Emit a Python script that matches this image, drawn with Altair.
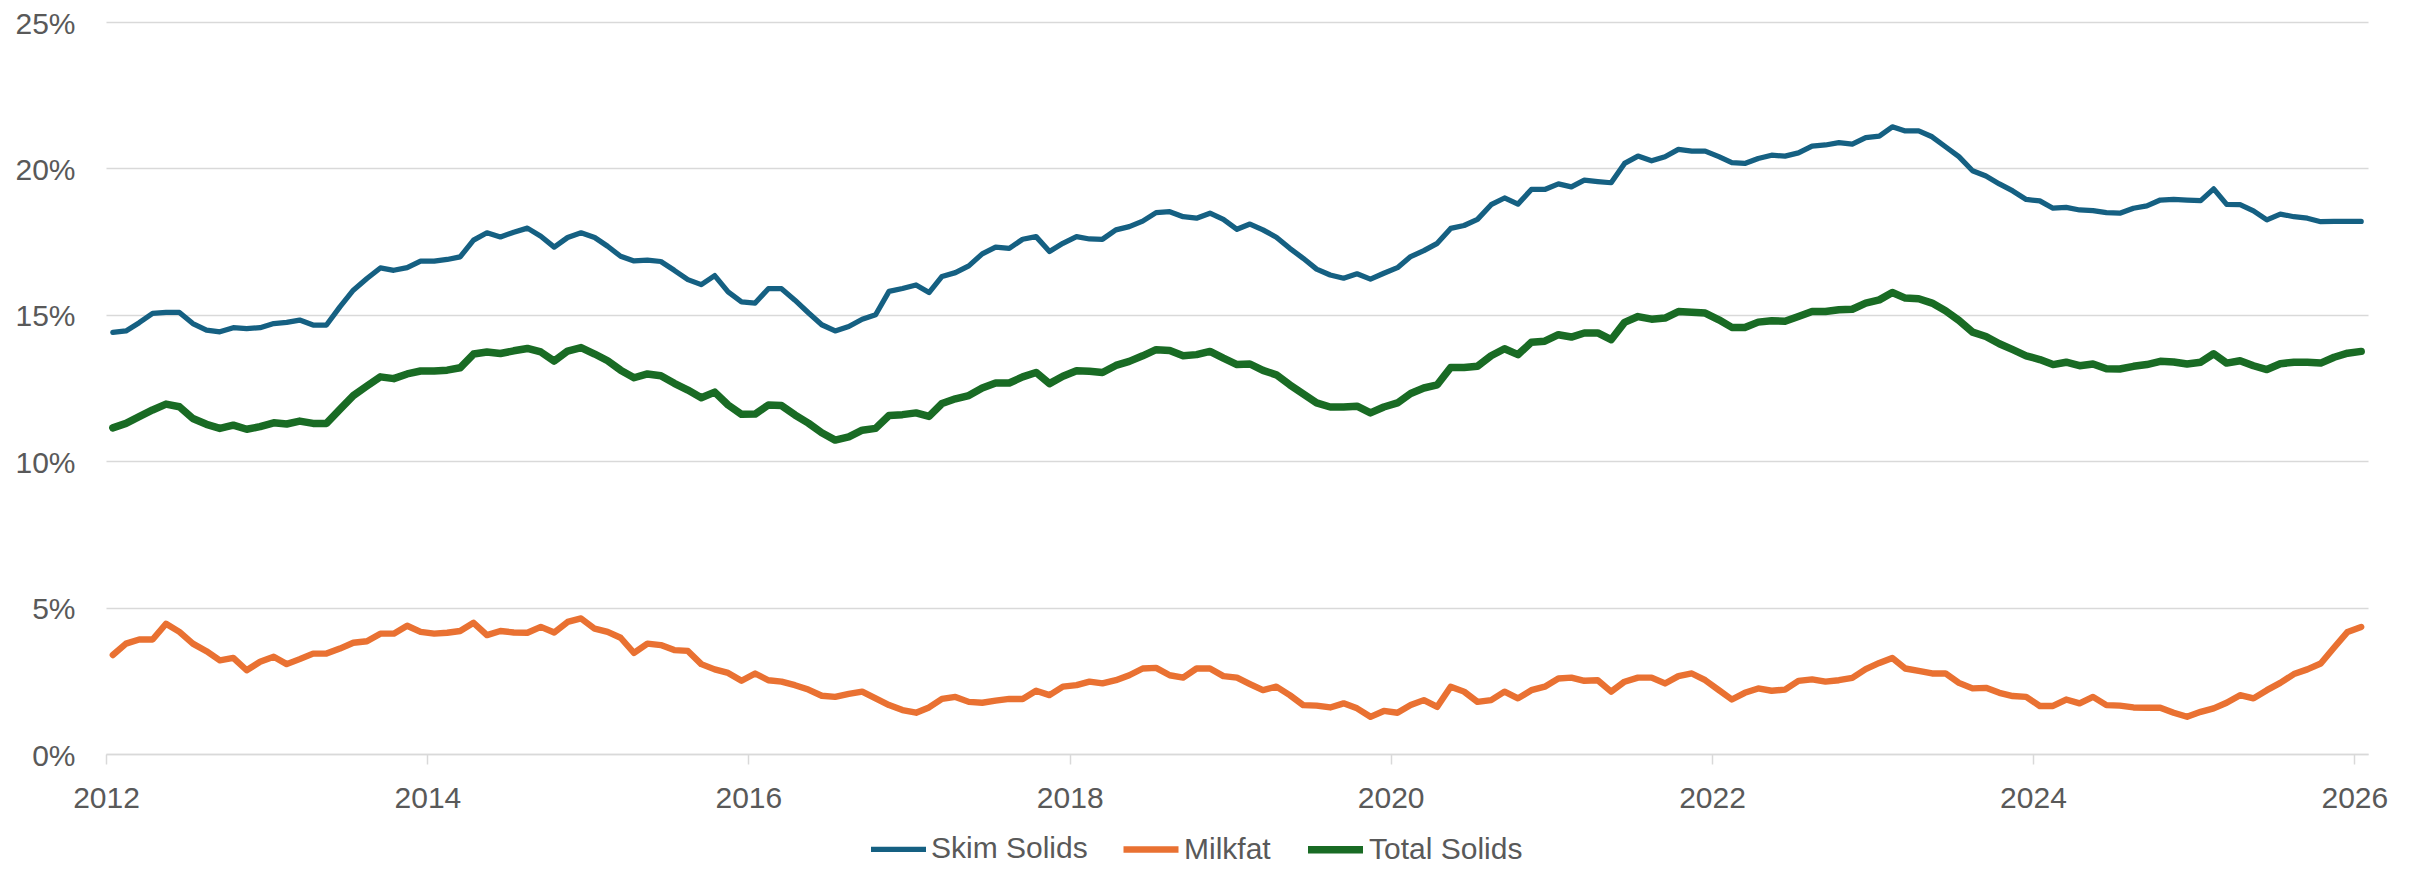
import altair as alt
import pandas as pd

# ---- data (monthly, Jan 2012 - Jan 2026), values in percent ----
skim = [
    14.40, 14.45, 14.73, 15.05, 15.08, 15.08, 14.70, 14.48, 14.42, 14.56,
    14.53, 14.56, 14.70, 14.74, 14.82, 14.65, 14.65, 15.27, 15.84, 16.24,
    16.60, 16.52, 16.61, 16.83, 16.83, 16.89, 16.98, 17.55, 17.80, 17.66,
    17.82, 17.96, 17.68, 17.31, 17.64, 17.80, 17.64, 17.34, 17.00, 16.84,
    16.87, 16.82, 16.52, 16.20, 16.03, 16.34, 15.78, 15.44, 15.40, 15.89,
    15.89, 15.50, 15.07,
    14.66, 14.45, 14.60, 14.85, 15.00, 15.80, 15.90, 16.02, 15.76, 16.31,
    16.44, 16.67, 17.08, 17.31, 17.27, 17.58, 17.67, 17.16, 17.44, 17.67,
    17.59, 17.58, 17.90, 18.01, 18.20, 18.49, 18.52, 18.35, 18.30, 18.47,
    18.26, 17.92, 18.10, 17.90, 17.65, 17.27, 16.93, 16.56, 16.36, 16.25,
    16.40, 16.22, 16.42, 16.61, 16.99, 17.19, 17.44, 17.95, 18.05, 18.26,
    18.76, 18.99, 18.78, 19.28, 19.28, 19.47,
    19.37, 19.60, 19.55, 19.51, 20.17, 20.42, 20.26, 20.40, 20.65, 20.59,
    20.59, 20.40, 20.20, 20.17, 20.34, 20.45, 20.42, 20.53, 20.76, 20.80,
    20.88, 20.83, 21.05, 21.10, 21.42, 21.28, 21.28, 21.08, 20.74, 20.40,
    19.92, 19.74, 19.47, 19.23, 18.94, 18.89, 18.64, 18.67, 18.58, 18.56,
    18.49, 18.47, 18.64, 18.72, 18.92, 18.94, 18.92, 18.90, 19.30, 18.77,
    18.76, 18.55, 18.24, 18.44, 18.35, 18.30, 18.18, 18.19, 18.19, 18.19,
]

milkfat = [
    3.38, 3.77, 3.91, 3.91, 4.45, 4.17, 3.77, 3.51, 3.20, 3.28,
    2.86, 3.15, 3.32, 3.07, 3.24, 3.43, 3.43, 3.60, 3.80, 3.85,
    4.11, 4.11, 4.38, 4.17, 4.11, 4.14, 4.20, 4.48,
    4.06, 4.20, 4.15, 4.14, 4.34, 4.15, 4.51, 4.63, 4.28, 4.17,
    3.97, 3.45, 3.77, 3.72, 3.55, 3.52, 3.07, 2.89, 2.77, 2.50,
    2.75, 2.52, 2.47, 2.35, 2.20, 1.99, 1.95, 2.05,
    2.13, 1.90, 1.67, 1.50, 1.41, 1.59, 1.88, 1.95, 1.78, 1.75,
    1.82, 1.88, 1.88, 2.16, 2.01, 2.30, 2.35, 2.47, 2.41, 2.52,
    2.69, 2.92, 2.94, 2.69, 2.61, 2.92, 2.92, 2.66,
    2.61, 2.39, 2.18, 2.30, 2.01, 1.67, 1.65, 1.59, 1.73, 1.56,
    1.27, 1.47, 1.41, 1.67, 1.84, 1.61, 2.30, 2.13, 1.78, 1.84,
    2.13, 1.90, 2.18, 2.30, 2.58, 2.61, 2.50, 2.52,
    2.13, 2.47, 2.61, 2.61, 2.41, 2.66, 2.75, 2.52, 2.18, 1.86,
    2.09, 2.24, 2.16, 2.20, 2.50, 2.55, 2.47, 2.52, 2.60, 2.90,
    3.11, 3.28, 2.92, 2.84, 2.75, 2.75, 2.43, 2.24,
    2.26, 2.09, 1.98, 1.95, 1.64, 1.64, 1.86, 1.73, 1.95, 1.67,
    1.65, 1.59, 1.58, 1.58, 1.41, 1.27, 1.44, 1.56, 1.75, 2.01,
    1.90, 2.18, 2.43, 2.73, 2.89, 3.09, 3.64, 4.17, 4.34,
]

total = [
    11.14, 11.29, 11.52, 11.75, 11.95, 11.86, 11.46, 11.26, 11.12, 11.23,
    11.09, 11.18, 11.31, 11.27, 11.37, 11.29, 11.29, 11.77, 12.24, 12.57,
    12.88, 12.82, 12.98, 13.08, 13.08, 13.11, 13.19, 13.66, 13.73, 13.68,
    13.77, 13.85, 13.73, 13.42, 13.76, 13.88, 13.66, 13.43, 13.11, 12.85,
    12.98, 12.92, 12.66, 12.43, 12.17, 12.36, 11.92, 11.60, 11.61, 11.92,
    11.90, 11.58, 11.30,
    10.97, 10.72, 10.83, 11.06, 11.12, 11.56, 11.59, 11.65, 11.53, 11.97,
    12.13, 12.24, 12.50, 12.67, 12.67, 12.88, 13.03, 12.65, 12.90, 13.09,
    13.07, 13.03, 13.27, 13.41, 13.60, 13.81, 13.78, 13.60, 13.64, 13.75,
    13.52, 13.30, 13.32, 13.10, 12.95, 12.61, 12.30, 11.99, 11.85, 11.85,
    11.88, 11.65, 11.85, 11.99, 12.31, 12.50, 12.61, 13.20, 13.20, 13.24,
    13.60, 13.84, 13.64, 14.06, 14.10, 14.32,
    14.24, 14.38, 14.38, 14.15, 14.74, 14.94, 14.85, 14.89, 15.11, 15.09,
    15.06, 14.83, 14.57, 14.57, 14.75, 14.80, 14.78, 14.94, 15.11, 15.11,
    15.17, 15.19, 15.40, 15.51, 15.76, 15.57, 15.55, 15.40, 15.14, 14.81,
    14.41, 14.26, 14.01, 13.81, 13.60, 13.47, 13.30, 13.38, 13.26, 13.32,
    13.16, 13.15, 13.24, 13.30, 13.41, 13.39, 13.32, 13.38, 13.67, 13.35,
    13.43, 13.26, 13.13, 13.33, 13.38, 13.38, 13.35, 13.55, 13.69, 13.75,
]

series_names = ["Skim Solids", "Milkfat", "Total Solids"]
series_colors = ["#156082", "#E97132", "#196B24"]
series_widths = [5.25, 7.5, 5.25]
year_ticks = list(range(2012, 2027, 2))
y_ticks = [0, 5, 10, 15, 20, 25]

# ---- build long table (points placed mid-month) ----
month_starts = pd.date_range("2012-01-01", periods=len(skim) + 1, freq="MS")
mid_month = month_starts[:-1] + (month_starts[1:] - month_starts[:-1]) / 2
rows = []
for name, vals in zip(series_names, [skim, milkfat, total]):
    for d, v in zip(mid_month, vals):
        rows.append({"date": d.strftime("%Y-%m-%dT%H:%M:%S"), "value": v, "series": name})
df = pd.DataFrame(rows)

FONT = "Liberation Sans, Arial, sans-serif"
TEXT = "#595959"
GRID = "#d9d9d9"

legend = alt.Legend(
    title=None, orient="none", direction="horizontal",
    legendX=762, legendY=796, padding=0,
    symbolType="stroke", symbolSize=3025, symbolStrokeWidth=5.5,
    labelFont=FONT, labelFontSize=30, labelColor=TEXT,
    labelOffset=2, columnPadding=22,
)

chart = (
    alt.Chart(df)
    .mark_line(strokeCap="round", strokeJoin="round")
    .encode(
        x=alt.X(
            "date:T",
            scale=alt.Scale(domain=[alt.DateTime(year=2012, month=1, date=1),
                                    alt.DateTime(year=2026, month=2, date=1)]),
            axis=alt.Axis(
                title=None, grid=False, format="%Y", labelFlush=False,
                values=[alt.DateTime(year=y, month=1, date=1) for y in year_ticks],
                domain=True, domainColor=GRID, domainWidth=1.5,
                ticks=True, tickColor=GRID, tickSize=10, tickWidth=1.5,
                labelPadding=19,
            ),
        ),
        y=alt.Y(
            "value:Q",
            scale=alt.Scale(domain=[0, 25], nice=False),
            axis=alt.Axis(
                title=None, values=y_ticks, labelExpr="datum.value + '%'",
                grid=True, gridColor=GRID, gridWidth=1.5, labelFlush=False,
                domain=False, ticks=False, labelPadding=31, labelOffset=2,
            ),
        ),
        color=alt.Color("series:N", scale=alt.Scale(domain=series_names, range=series_colors), legend=legend),
        strokeWidth=alt.StrokeWidth("series:N", scale=alt.Scale(domain=series_names, range=series_widths), legend=None),
    )
    .properties(
        width=2262, height=732,
        padding={"left": 98, "top": 14, "right": 52, "bottom": 110},
        autosize=alt.AutoSizeParams(type="none"),
    )
    .configure_view(stroke=None)
    .configure_axis(labelFont=FONT, labelFontSize=30, labelColor=TEXT)
)

chart.save("out.html", embed_options={"renderer": "svg", "actions": False})
